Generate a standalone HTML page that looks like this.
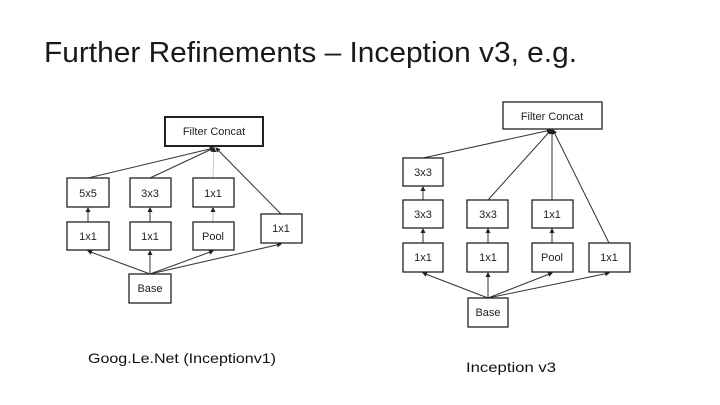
<!DOCTYPE html>
<html><head><meta charset="utf-8"><style>
html,body{margin:0;padding:0;background:#fff;}
svg{display:block;}
</style></head><body>
<svg width="720" height="405" viewBox="0 0 720 405" xmlns="http://www.w3.org/2000/svg" font-family="Liberation Sans, sans-serif">
<defs>
<marker id="a" markerWidth="5" markerHeight="5" refX="4" refY="2.5" orient="auto"><path d="M0,0 L5,2.5 L0,5 z" fill="#222"/></marker>
</defs>
<text x="44" y="62" font-size="29" fill="#1a1a1a" textLength="533" lengthAdjust="spacingAndGlyphs">Further Refinements – Inception v3, e.g.</text>

<g stroke="#333" stroke-width="1" fill="none" marker-end="url(#a)">
<line x1="150" y1="274" x2="88" y2="251"/>
<line x1="150" y1="274" x2="150" y2="251"/>
<line x1="150" y1="274" x2="213" y2="251"/>
<line x1="150" y1="274" x2="281" y2="244"/>
<line x1="88" y1="222" x2="88" y2="208"/>
<line x1="150" y1="222" x2="150" y2="208"/>
<line x1="213" y1="222" x2="213" y2="208" stroke="#bbb"/>
<line x1="88" y1="178" x2="214" y2="148"/>
<line x1="150" y1="178" x2="214" y2="148"/>
<line x1="213" y1="178" x2="214" y2="148" stroke="#ccc"/>
<line x1="281" y1="214" x2="216" y2="148"/>
<line x1="488" y1="298" x2="423" y2="273"/>
<line x1="488" y1="298" x2="488" y2="273"/>
<line x1="488" y1="298" x2="552" y2="273"/>
<line x1="488" y1="298" x2="609" y2="273"/>
<line x1="423" y1="243" x2="423" y2="229"/>
<line x1="488" y1="243" x2="488" y2="229"/>
<line x1="552" y1="243" x2="552" y2="229"/>
<line x1="423" y1="200" x2="423" y2="187"/>
<line x1="423" y1="158" x2="551" y2="130"/>
<line x1="488" y1="200" x2="551" y2="130"/>
<line x1="552" y1="200" x2="552" y2="130"/>
<line x1="609" y1="243" x2="553" y2="130"/>
</g>

<g fill="#fff" stroke="#222" stroke-width="1.3">
<rect x="165" y="117" width="98" height="29" stroke-width="2"/>
<rect x="67" y="178" width="42" height="29"/>
<rect x="130" y="178" width="41" height="29"/>
<rect x="193" y="178" width="41" height="29"/>
<rect x="67" y="222" width="42" height="28"/>
<rect x="130" y="222" width="41" height="28"/>
<rect x="193" y="222" width="41" height="28"/>
<rect x="261" y="214" width="41" height="29"/>
<rect x="129" y="274" width="42" height="29"/>

<rect x="503" y="102" width="99" height="27"/>
<rect x="403" y="158" width="40" height="28"/>
<rect x="403" y="200" width="40" height="28"/>
<rect x="467" y="200" width="41" height="28"/>
<rect x="532" y="200" width="41" height="28"/>
<rect x="403" y="243" width="40" height="29"/>
<rect x="467" y="243" width="41" height="29"/>
<rect x="532" y="243" width="41" height="29"/>
<rect x="589" y="243" width="41" height="29"/>
<rect x="468" y="298" width="40" height="29"/>
</g>

<g font-size="11" fill="#222" text-anchor="middle">
<text x="214" y="135">Filter Concat</text>
<text x="88" y="197">5x5</text>
<text x="150" y="197">3x3</text>
<text x="213" y="197">1x1</text>
<text x="88" y="240">1x1</text>
<text x="150" y="240">1x1</text>
<text x="213" y="240">Pool</text>
<text x="281" y="232">1x1</text>
<text x="150" y="292">Base</text>

<text x="552" y="120">Filter Concat</text>
<text x="423" y="176">3x3</text>
<text x="423" y="218">3x3</text>
<text x="488" y="218">3x3</text>
<text x="552" y="218">1x1</text>
<text x="423" y="261">1x1</text>
<text x="488" y="261">1x1</text>
<text x="552" y="261">Pool</text>
<text x="609" y="261">1x1</text>
<text x="488" y="316">Base</text>
</g>

<text x="88" y="363" font-size="14" fill="#111" textLength="188" lengthAdjust="spacingAndGlyphs">Goog.Le.Net (Inceptionv1)</text>
<text x="466" y="372" font-size="14" fill="#111" textLength="90" lengthAdjust="spacingAndGlyphs">Inception v3</text>
</svg>
</body></html>
